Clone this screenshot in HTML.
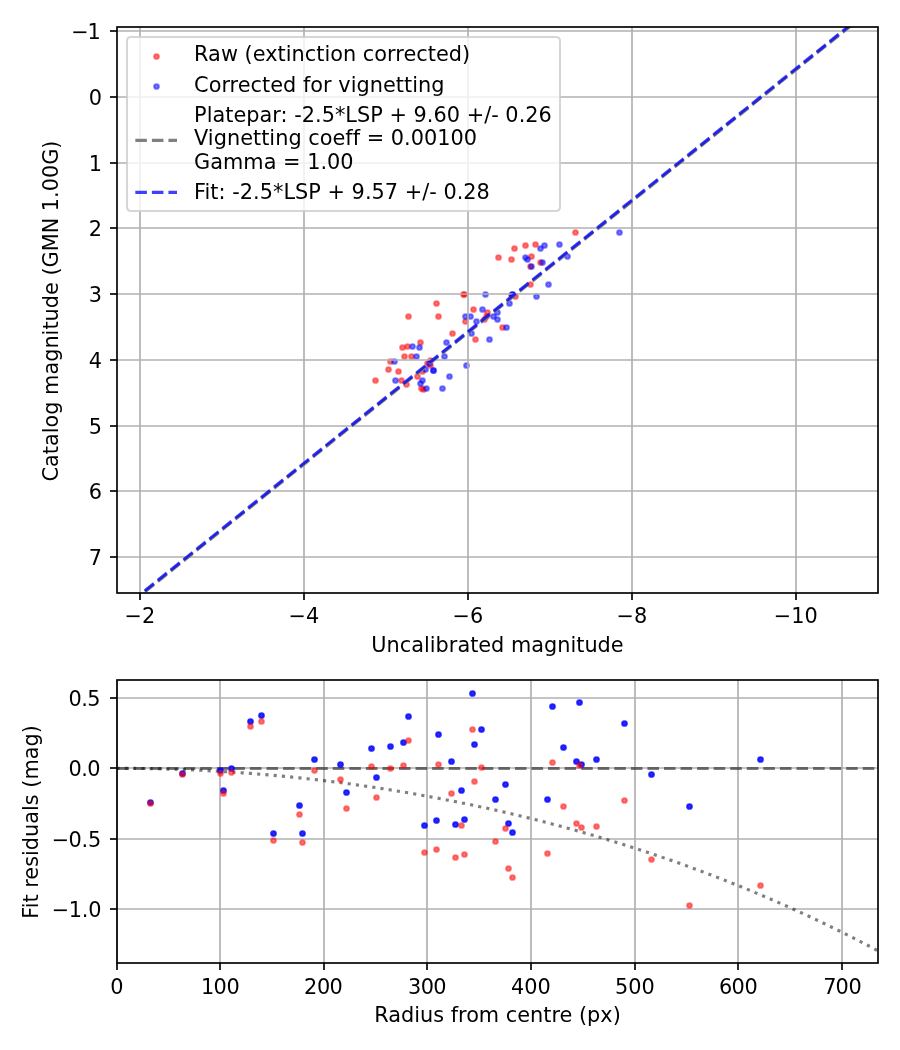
<!DOCTYPE html>
<html><head><meta charset="utf-8"><title>Photometry fit</title>
<style>html,body{margin:0;padding:0;background:#fff}svg{display:block}</style></head>
<body>
<svg width="900" height="1050" viewBox="0 0 900 1050" font-family='"DejaVu Sans", "Liberation Sans", sans-serif' font-size="20.8333px">
<rect width="900" height="1050" fill="#fff"/>
<defs><clipPath id="c1"><rect x="117.0" y="27.0" width="761.0" height="566.0"/></clipPath><clipPath id="c2"><rect x="117.0" y="680.0" width="761.0" height="283.0"/></clipPath></defs>
<g clip-path="url(#c1)">
<circle cx="408.50" cy="316.50" r="2.329" fill="#ff0000" fill-opacity="0.5" stroke="#ff0000" stroke-opacity="0.5" stroke-width="2.083"/>
<circle cx="436.50" cy="303.50" r="2.329" fill="#ff0000" fill-opacity="0.5" stroke="#ff0000" stroke-opacity="0.5" stroke-width="2.083"/>
<circle cx="438.50" cy="316.50" r="2.329" fill="#ff0000" fill-opacity="0.5" stroke="#ff0000" stroke-opacity="0.5" stroke-width="2.083"/>
<circle cx="375.50" cy="380.50" r="2.329" fill="#ff0000" fill-opacity="0.5" stroke="#ff0000" stroke-opacity="0.5" stroke-width="2.083"/>
<circle cx="388.50" cy="369.50" r="2.329" fill="#ff0000" fill-opacity="0.5" stroke="#ff0000" stroke-opacity="0.5" stroke-width="2.083"/>
<circle cx="390.50" cy="361.50" r="2.329" fill="#ff0000" fill-opacity="0.5" stroke="#ff0000" stroke-opacity="0.5" stroke-width="2.083"/>
<circle cx="398.50" cy="371.50" r="2.329" fill="#ff0000" fill-opacity="0.5" stroke="#ff0000" stroke-opacity="0.5" stroke-width="2.083"/>
<circle cx="401.50" cy="380.50" r="2.329" fill="#ff0000" fill-opacity="0.5" stroke="#ff0000" stroke-opacity="0.5" stroke-width="2.083"/>
<circle cx="402.50" cy="347.50" r="2.329" fill="#ff0000" fill-opacity="0.5" stroke="#ff0000" stroke-opacity="0.5" stroke-width="2.083"/>
<circle cx="407.50" cy="346.50" r="2.329" fill="#ff0000" fill-opacity="0.5" stroke="#ff0000" stroke-opacity="0.5" stroke-width="2.083"/>
<circle cx="404.50" cy="356.50" r="2.329" fill="#ff0000" fill-opacity="0.5" stroke="#ff0000" stroke-opacity="0.5" stroke-width="2.083"/>
<circle cx="411.50" cy="356.50" r="2.329" fill="#ff0000" fill-opacity="0.5" stroke="#ff0000" stroke-opacity="0.5" stroke-width="2.083"/>
<circle cx="420.50" cy="342.50" r="2.329" fill="#ff0000" fill-opacity="0.5" stroke="#ff0000" stroke-opacity="0.5" stroke-width="2.083"/>
<circle cx="406.50" cy="384.50" r="2.329" fill="#ff0000" fill-opacity="0.5" stroke="#ff0000" stroke-opacity="0.5" stroke-width="2.083"/>
<circle cx="417.50" cy="376.50" r="2.329" fill="#ff0000" fill-opacity="0.5" stroke="#ff0000" stroke-opacity="0.5" stroke-width="2.083"/>
<circle cx="422.50" cy="371.50" r="2.329" fill="#ff0000" fill-opacity="0.5" stroke="#ff0000" stroke-opacity="0.5" stroke-width="2.083"/>
<circle cx="427.50" cy="363.50" r="2.329" fill="#ff0000" fill-opacity="0.5" stroke="#ff0000" stroke-opacity="0.5" stroke-width="2.083"/>
<circle cx="430.50" cy="360.50" r="2.329" fill="#ff0000" fill-opacity="0.5" stroke="#ff0000" stroke-opacity="0.5" stroke-width="2.083"/>
<circle cx="430.50" cy="365.50" r="2.329" fill="#ff0000" fill-opacity="0.5" stroke="#ff0000" stroke-opacity="0.5" stroke-width="2.083"/>
<circle cx="421.50" cy="388.50" r="2.329" fill="#ff0000" fill-opacity="0.5" stroke="#ff0000" stroke-opacity="0.5" stroke-width="2.083"/>
<circle cx="423.50" cy="389.50" r="2.329" fill="#ff0000" fill-opacity="0.5" stroke="#ff0000" stroke-opacity="0.5" stroke-width="2.083"/>
<circle cx="452.50" cy="333.50" r="2.329" fill="#ff0000" fill-opacity="0.5" stroke="#ff0000" stroke-opacity="0.5" stroke-width="2.083"/>
<circle cx="463.50" cy="294.50" r="2.329" fill="#ff0000" fill-opacity="0.5" stroke="#ff0000" stroke-opacity="0.5" stroke-width="2.083"/>
<circle cx="464.50" cy="294.50" r="2.329" fill="#ff0000" fill-opacity="0.5" stroke="#ff0000" stroke-opacity="0.5" stroke-width="2.083"/>
<circle cx="473.50" cy="309.50" r="2.329" fill="#ff0000" fill-opacity="0.5" stroke="#ff0000" stroke-opacity="0.5" stroke-width="2.083"/>
<circle cx="487.50" cy="312.50" r="2.329" fill="#ff0000" fill-opacity="0.5" stroke="#ff0000" stroke-opacity="0.5" stroke-width="2.083"/>
<circle cx="484.50" cy="319.50" r="2.329" fill="#ff0000" fill-opacity="0.5" stroke="#ff0000" stroke-opacity="0.5" stroke-width="2.083"/>
<circle cx="486.50" cy="316.50" r="2.329" fill="#ff0000" fill-opacity="0.5" stroke="#ff0000" stroke-opacity="0.5" stroke-width="2.083"/>
<circle cx="465.50" cy="321.50" r="2.329" fill="#ff0000" fill-opacity="0.5" stroke="#ff0000" stroke-opacity="0.5" stroke-width="2.083"/>
<circle cx="475.50" cy="339.50" r="2.329" fill="#ff0000" fill-opacity="0.5" stroke="#ff0000" stroke-opacity="0.5" stroke-width="2.083"/>
<circle cx="502.50" cy="327.50" r="2.329" fill="#ff0000" fill-opacity="0.5" stroke="#ff0000" stroke-opacity="0.5" stroke-width="2.083"/>
<circle cx="530.50" cy="284.50" r="2.329" fill="#ff0000" fill-opacity="0.5" stroke="#ff0000" stroke-opacity="0.5" stroke-width="2.083"/>
<circle cx="515.50" cy="296.50" r="2.329" fill="#ff0000" fill-opacity="0.5" stroke="#ff0000" stroke-opacity="0.5" stroke-width="2.083"/>
<circle cx="511.50" cy="295.50" r="2.329" fill="#ff0000" fill-opacity="0.5" stroke="#ff0000" stroke-opacity="0.5" stroke-width="2.083"/>
<circle cx="498.50" cy="257.50" r="2.329" fill="#ff0000" fill-opacity="0.5" stroke="#ff0000" stroke-opacity="0.5" stroke-width="2.083"/>
<circle cx="511.50" cy="259.50" r="2.329" fill="#ff0000" fill-opacity="0.5" stroke="#ff0000" stroke-opacity="0.5" stroke-width="2.083"/>
<circle cx="514.50" cy="248.50" r="2.329" fill="#ff0000" fill-opacity="0.5" stroke="#ff0000" stroke-opacity="0.5" stroke-width="2.083"/>
<circle cx="525.50" cy="245.50" r="2.329" fill="#ff0000" fill-opacity="0.5" stroke="#ff0000" stroke-opacity="0.5" stroke-width="2.083"/>
<circle cx="535.50" cy="244.50" r="2.329" fill="#ff0000" fill-opacity="0.5" stroke="#ff0000" stroke-opacity="0.5" stroke-width="2.083"/>
<circle cx="531.50" cy="256.50" r="2.329" fill="#ff0000" fill-opacity="0.5" stroke="#ff0000" stroke-opacity="0.5" stroke-width="2.083"/>
<circle cx="540.50" cy="262.50" r="2.329" fill="#ff0000" fill-opacity="0.5" stroke="#ff0000" stroke-opacity="0.5" stroke-width="2.083"/>
<circle cx="530.50" cy="266.50" r="2.329" fill="#ff0000" fill-opacity="0.5" stroke="#ff0000" stroke-opacity="0.5" stroke-width="2.083"/>
<circle cx="575.50" cy="232.50" r="2.329" fill="#ff0000" fill-opacity="0.5" stroke="#ff0000" stroke-opacity="0.5" stroke-width="2.083"/>
<circle cx="394.50" cy="361.50" r="2.329" fill="#0000ff" fill-opacity="0.5" stroke="#0000ff" stroke-opacity="0.5" stroke-width="2.083"/>
<circle cx="395.50" cy="380.50" r="2.329" fill="#0000ff" fill-opacity="0.5" stroke="#0000ff" stroke-opacity="0.5" stroke-width="2.083"/>
<circle cx="412.50" cy="346.50" r="2.329" fill="#0000ff" fill-opacity="0.5" stroke="#0000ff" stroke-opacity="0.5" stroke-width="2.083"/>
<circle cx="419.50" cy="347.50" r="2.329" fill="#0000ff" fill-opacity="0.5" stroke="#0000ff" stroke-opacity="0.5" stroke-width="2.083"/>
<circle cx="416.50" cy="356.50" r="2.329" fill="#0000ff" fill-opacity="0.5" stroke="#0000ff" stroke-opacity="0.5" stroke-width="2.083"/>
<circle cx="446.50" cy="342.50" r="2.329" fill="#0000ff" fill-opacity="0.5" stroke="#0000ff" stroke-opacity="0.5" stroke-width="2.083"/>
<circle cx="444.50" cy="356.50" r="2.329" fill="#0000ff" fill-opacity="0.5" stroke="#0000ff" stroke-opacity="0.5" stroke-width="2.083"/>
<circle cx="433.50" cy="370.50" r="2.329" fill="#0000ff" fill-opacity="0.5" stroke="#0000ff" stroke-opacity="0.5" stroke-width="2.083"/>
<circle cx="433.50" cy="370.50" r="2.329" fill="#0000ff" fill-opacity="0.5" stroke="#0000ff" stroke-opacity="0.5" stroke-width="2.083"/>
<circle cx="425.50" cy="369.50" r="2.329" fill="#0000ff" fill-opacity="0.5" stroke="#0000ff" stroke-opacity="0.5" stroke-width="2.083"/>
<circle cx="422.50" cy="380.50" r="2.329" fill="#0000ff" fill-opacity="0.5" stroke="#0000ff" stroke-opacity="0.5" stroke-width="2.083"/>
<circle cx="420.50" cy="383.50" r="2.329" fill="#0000ff" fill-opacity="0.5" stroke="#0000ff" stroke-opacity="0.5" stroke-width="2.083"/>
<circle cx="426.50" cy="388.50" r="2.329" fill="#0000ff" fill-opacity="0.5" stroke="#0000ff" stroke-opacity="0.5" stroke-width="2.083"/>
<circle cx="442.50" cy="388.50" r="2.329" fill="#0000ff" fill-opacity="0.5" stroke="#0000ff" stroke-opacity="0.5" stroke-width="2.083"/>
<circle cx="449.50" cy="376.50" r="2.329" fill="#0000ff" fill-opacity="0.5" stroke="#0000ff" stroke-opacity="0.5" stroke-width="2.083"/>
<circle cx="429.50" cy="363.50" r="2.329" fill="#0000ff" fill-opacity="0.5" stroke="#0000ff" stroke-opacity="0.5" stroke-width="2.083"/>
<circle cx="485.50" cy="294.50" r="2.329" fill="#0000ff" fill-opacity="0.5" stroke="#0000ff" stroke-opacity="0.5" stroke-width="2.083"/>
<circle cx="482.50" cy="309.50" r="2.329" fill="#0000ff" fill-opacity="0.5" stroke="#0000ff" stroke-opacity="0.5" stroke-width="2.083"/>
<circle cx="465.50" cy="316.50" r="2.329" fill="#0000ff" fill-opacity="0.5" stroke="#0000ff" stroke-opacity="0.5" stroke-width="2.083"/>
<circle cx="470.50" cy="316.50" r="2.329" fill="#0000ff" fill-opacity="0.5" stroke="#0000ff" stroke-opacity="0.5" stroke-width="2.083"/>
<circle cx="476.50" cy="321.50" r="2.329" fill="#0000ff" fill-opacity="0.5" stroke="#0000ff" stroke-opacity="0.5" stroke-width="2.083"/>
<circle cx="493.50" cy="316.50" r="2.329" fill="#0000ff" fill-opacity="0.5" stroke="#0000ff" stroke-opacity="0.5" stroke-width="2.083"/>
<circle cx="497.50" cy="312.50" r="2.329" fill="#0000ff" fill-opacity="0.5" stroke="#0000ff" stroke-opacity="0.5" stroke-width="2.083"/>
<circle cx="497.50" cy="319.50" r="2.329" fill="#0000ff" fill-opacity="0.5" stroke="#0000ff" stroke-opacity="0.5" stroke-width="2.083"/>
<circle cx="509.50" cy="303.50" r="2.329" fill="#0000ff" fill-opacity="0.5" stroke="#0000ff" stroke-opacity="0.5" stroke-width="2.083"/>
<circle cx="512.50" cy="294.50" r="2.329" fill="#0000ff" fill-opacity="0.5" stroke="#0000ff" stroke-opacity="0.5" stroke-width="2.083"/>
<circle cx="512.50" cy="294.50" r="2.329" fill="#0000ff" fill-opacity="0.5" stroke="#0000ff" stroke-opacity="0.5" stroke-width="2.083"/>
<circle cx="506.50" cy="327.50" r="2.329" fill="#0000ff" fill-opacity="0.5" stroke="#0000ff" stroke-opacity="0.5" stroke-width="2.083"/>
<circle cx="471.50" cy="333.50" r="2.329" fill="#0000ff" fill-opacity="0.5" stroke="#0000ff" stroke-opacity="0.5" stroke-width="2.083"/>
<circle cx="489.50" cy="339.50" r="2.329" fill="#0000ff" fill-opacity="0.5" stroke="#0000ff" stroke-opacity="0.5" stroke-width="2.083"/>
<circle cx="536.50" cy="296.50" r="2.329" fill="#0000ff" fill-opacity="0.5" stroke="#0000ff" stroke-opacity="0.5" stroke-width="2.083"/>
<circle cx="466.50" cy="365.50" r="2.329" fill="#0000ff" fill-opacity="0.5" stroke="#0000ff" stroke-opacity="0.5" stroke-width="2.083"/>
<circle cx="544.50" cy="245.50" r="2.329" fill="#0000ff" fill-opacity="0.5" stroke="#0000ff" stroke-opacity="0.5" stroke-width="2.083"/>
<circle cx="540.50" cy="248.50" r="2.329" fill="#0000ff" fill-opacity="0.5" stroke="#0000ff" stroke-opacity="0.5" stroke-width="2.083"/>
<circle cx="559.50" cy="244.50" r="2.329" fill="#0000ff" fill-opacity="0.5" stroke="#0000ff" stroke-opacity="0.5" stroke-width="2.083"/>
<circle cx="525.50" cy="257.50" r="2.329" fill="#0000ff" fill-opacity="0.5" stroke="#0000ff" stroke-opacity="0.5" stroke-width="2.083"/>
<circle cx="527.50" cy="259.50" r="2.329" fill="#0000ff" fill-opacity="0.5" stroke="#0000ff" stroke-opacity="0.5" stroke-width="2.083"/>
<circle cx="542.50" cy="262.50" r="2.329" fill="#0000ff" fill-opacity="0.5" stroke="#0000ff" stroke-opacity="0.5" stroke-width="2.083"/>
<circle cx="531.50" cy="266.50" r="2.329" fill="#0000ff" fill-opacity="0.5" stroke="#0000ff" stroke-opacity="0.5" stroke-width="2.083"/>
<circle cx="567.50" cy="256.50" r="2.329" fill="#0000ff" fill-opacity="0.5" stroke="#0000ff" stroke-opacity="0.5" stroke-width="2.083"/>
<circle cx="548.50" cy="284.50" r="2.329" fill="#0000ff" fill-opacity="0.5" stroke="#0000ff" stroke-opacity="0.5" stroke-width="2.083"/>
<circle cx="619.50" cy="232.50" r="2.329" fill="#0000ff" fill-opacity="0.5" stroke="#0000ff" stroke-opacity="0.5" stroke-width="2.083"/>
</g>
<g stroke="#b0b0b0" stroke-width="1.667" fill="none">
<path d="M140.00 27.0V593.0"/>
<path d="M304.00 27.0V593.0"/>
<path d="M468.00 27.0V593.0"/>
<path d="M632.00 27.0V593.0"/>
<path d="M796.00 27.0V593.0"/>
<path d="M117.0 31H878.0"/>
<path d="M117.0 97H878.0"/>
<path d="M117.0 163H878.0"/>
<path d="M117.0 228H878.0"/>
<path d="M117.0 294H878.0"/>
<path d="M117.0 360H878.0"/>
<path d="M117.0 426H878.0"/>
<path d="M117.0 491H878.0"/>
<path d="M117.0 557H878.0"/>
</g>
<g clip-path="url(#c1)" fill="none" stroke-width="3.125" stroke-dasharray="11.562 5.000">
<path d="M144.90 591.79L869.80 10.55" stroke="#808080" />
<path d="M144.90 590.68L869.80 9.43" stroke="#0000ff" stroke-opacity="0.75"/>
</g>
<g stroke="#000" stroke-width="1.667" fill="none">
<path d="M140.00 593.0v7.00"/>
<path d="M304.00 593.0v7.00"/>
<path d="M468.00 593.0v7.00"/>
<path d="M632.00 593.0v7.00"/>
<path d="M796.00 593.0v7.00"/>
<path d="M117.0 31h-7.00"/>
<path d="M117.0 97h-7.00"/>
<path d="M117.0 163h-7.00"/>
<path d="M117.0 228h-7.00"/>
<path d="M117.0 294h-7.00"/>
<path d="M117.0 360h-7.00"/>
<path d="M117.0 426h-7.00"/>
<path d="M117.0 491h-7.00"/>
<path d="M117.0 557h-7.00"/>
<rect x="117.0" y="27.0" width="761.0" height="566.0" stroke-linejoin="miter"/>
</g>
<g fill="#000">
<text x="139.80" y="623" text-anchor="middle">−2</text>
<text x="303.80" y="623" text-anchor="middle">−4</text>
<text x="467.80" y="623" text-anchor="middle">−6</text>
<text x="631.80" y="623" text-anchor="middle">−8</text>
<text x="795.80" y="623" text-anchor="middle">−10</text>
<text x="71.2 87.5" y="39">−1</text>
<text x="101.92" y="105" text-anchor="end">0</text>
<text x="101.92" y="171" text-anchor="end">1</text>
<text x="101.92" y="236" text-anchor="end">2</text>
<text x="101.92" y="302" text-anchor="end">3</text>
<text x="101.92" y="368" text-anchor="end">4</text>
<text x="101.92" y="434" text-anchor="end">5</text>
<text x="101.92" y="499" text-anchor="end">6</text>
<text x="101.92" y="565" text-anchor="end">7</text>
<text x="497.5" y="652" text-anchor="middle">Uncalibrated magnitude</text>
<text transform="translate(58 311) rotate(-90)" text-anchor="middle">Catalog magnitude (GMN 1.00G)</text>
</g>
<path d="M131.17 37.0H555.83Q560.0 37.0 560.0 41.17V206.83Q560.0 211.0 555.83 211.0H131.17Q127.0 211.0 127.0 206.83V41.17Q127.0 37.0 131.17 37.0Z" fill="#fff" fill-opacity="0.8" stroke="#ccc" stroke-opacity="0.8" stroke-width="2.083"/>
<circle cx="156.50" cy="56.50" r="2.329" fill="#ff0000" fill-opacity="0.5" stroke="#ff0000" stroke-opacity="0.5" stroke-width="2.083"/>
<circle cx="156.50" cy="86.50" r="2.329" fill="#0000ff" fill-opacity="0.5" stroke="#0000ff" stroke-opacity="0.5" stroke-width="2.083"/>
<path d="M135.33 140.4H177.00" stroke="#808080" stroke-width="3.125" stroke-dasharray="11.562 5.000" fill="none"/>
<path d="M135.33 192.4H177.00" stroke="#0000ff" stroke-opacity="0.75" stroke-width="3.125" stroke-dasharray="11.562 5.000" fill="none"/>
<g fill="#000">
<text x="194.07" y="61" letter-spacing="0.022">Raw (extinction corrected)</text>
<text x="194.07" y="92" letter-spacing="0.022">Corrected for vignetting</text>
<text x="194.07" y="122" letter-spacing="0.022">Platepar: -2.5*LSP + 9.60 +/- 0.26</text>
<text x="194.07" y="145" letter-spacing="0.022">Vignetting coeff = 0.00100</text>
<text x="194.07" y="169" letter-spacing="0.022">Gamma = 1.00</text>
<text x="194.07" y="199" letter-spacing="0.022">Fit: -2.5*LSP + 9.57 +/- 0.28</text>
</g>
<g stroke="#b0b0b0" stroke-width="1.667" fill="none">
<path d="M117 680.0V963.0"/>
<path d="M220 680.0V963.0"/>
<path d="M324 680.0V963.0"/>
<path d="M427 680.0V963.0"/>
<path d="M531 680.0V963.0"/>
<path d="M635 680.0V963.0"/>
<path d="M738 680.0V963.0"/>
<path d="M842 680.0V963.0"/>
<path d="M117.0 698H878.0"/>
<path d="M117.0 768H878.0"/>
<path d="M117.0 839H878.0"/>
<path d="M117.0 909H878.0"/>
</g>
<g clip-path="url(#c2)" fill="none">
<path d="M117.45 768.45H878.0" stroke="#000" stroke-opacity="0.5" stroke-width="3.125" stroke-dasharray="11.562 5.000"/>
<path d="M116.50 768.30 L120.31 768.30 L124.12 768.32 L127.94 768.34 L131.75 768.37 L135.56 768.40 L139.37 768.45 L143.19 768.50 L147.00 768.56 L150.81 768.64 L154.62 768.71 L158.44 768.80 L162.25 768.90 L166.06 769.00 L169.87 769.11 L173.69 769.23 L177.50 769.36 L181.31 769.50 L185.12 769.64 L188.94 769.79 L192.75 769.96 L196.56 770.13 L200.37 770.30 L204.19 770.49 L208.00 770.69 L211.81 770.89 L215.62 771.10 L219.44 771.32 L223.25 771.55 L227.06 771.79 L230.87 772.03 L234.69 772.28 L238.50 772.55 L242.31 772.82 L246.12 773.09 L249.94 773.38 L253.75 773.68 L257.56 773.98 L261.37 774.29 L265.19 774.61 L269.00 774.94 L272.81 775.28 L276.62 775.63 L280.44 775.98 L284.25 776.34 L288.06 776.72 L291.87 777.10 L295.69 777.48 L299.50 777.88 L303.31 778.29 L307.12 778.70 L310.94 779.12 L314.75 779.55 L318.56 779.99 L322.37 780.44 L326.19 780.90 L330.00 781.37 L333.81 781.84 L337.62 782.32 L341.44 782.81 L345.25 783.31 L349.06 783.82 L352.87 784.34 L356.69 784.87 L360.50 785.40 L364.31 785.95 L368.12 786.50 L371.94 787.06 L375.75 787.63 L379.56 788.21 L383.37 788.80 L387.19 789.39 L391.00 790.00 L394.81 790.61 L398.62 791.24 L402.44 791.87 L406.25 792.51 L410.06 793.16 L413.87 793.82 L417.69 794.49 L421.50 795.17 L425.31 795.85 L429.12 796.55 L432.94 797.25 L436.75 797.97 L440.56 798.69 L444.37 799.42 L448.19 800.16 L452.00 800.91 L455.81 801.67 L459.62 802.44 L463.44 803.22 L467.25 804.00 L471.06 804.80 L474.87 805.60 L478.69 806.42 L482.50 807.24 L486.31 808.08 L490.12 808.92 L493.94 809.77 L497.75 810.64 L501.56 811.51 L505.37 812.39 L509.19 813.28 L513.00 814.18 L516.81 815.09 L520.62 816.01 L524.44 816.94 L528.25 817.88 L532.06 818.83 L535.87 819.78 L539.69 820.75 L543.50 821.73 L547.31 822.72 L551.12 823.72 L554.94 824.72 L558.75 825.74 L562.56 826.77 L566.37 827.81 L570.19 828.85 L574.00 829.91 L577.81 830.98 L581.62 832.06 L585.44 833.15 L589.25 834.24 L593.06 835.35 L596.87 836.47 L600.68 837.60 L604.50 838.74 L608.31 839.89 L612.12 841.05 L615.93 842.22 L619.75 843.40 L623.56 844.60 L627.37 845.80 L631.18 847.01 L635.00 848.24 L638.81 849.47 L642.62 850.72 L646.43 851.97 L650.25 853.24 L654.06 854.52 L657.87 855.81 L661.68 857.11 L665.50 858.42 L669.31 859.74 L673.12 861.08 L676.93 862.42 L680.75 863.78 L684.56 865.15 L688.37 866.53 L692.18 867.92 L696.00 869.32 L699.81 870.73 L703.62 872.16 L707.43 873.59 L711.25 875.04 L715.06 876.50 L718.87 877.97 L722.68 879.46 L726.50 880.95 L730.31 882.46 L734.12 883.98 L737.93 885.51 L741.75 887.05 L745.56 888.61 L749.37 890.18 L753.18 891.76 L757.00 893.35 L760.81 894.95 L764.62 896.57 L768.43 898.20 L772.25 899.85 L776.06 901.50 L779.87 903.17 L783.68 904.85 L787.50 906.55 L791.31 908.25 L795.12 909.97 L798.93 911.71 L802.75 913.45 L806.56 915.21 L810.37 916.99 L814.18 918.78 L818.00 920.58 L821.81 922.39 L825.62 924.22 L829.43 926.06 L833.25 927.92 L837.06 929.78 L840.87 931.67 L844.68 933.57 L848.50 935.48 L852.31 937.40 L856.12 939.34 L859.93 941.30 L863.75 943.27 L867.56 945.25 L871.37 947.25 L875.18 949.27 L879.00 951.29" stroke="#000" stroke-opacity="0.5" stroke-width="3.125" stroke-dasharray="3.125 5.156"/>
</g>
<g clip-path="url(#c2)">
<circle cx="182.50" cy="773.50" r="2.329" fill="#0000ff" fill-opacity="0.8" stroke="#0000ff" stroke-opacity="0.8" stroke-width="2.083"/>
<circle cx="220.50" cy="770.50" r="2.329" fill="#0000ff" fill-opacity="0.8" stroke="#0000ff" stroke-opacity="0.8" stroke-width="2.083"/>
<circle cx="231.50" cy="768.50" r="2.329" fill="#0000ff" fill-opacity="0.8" stroke="#0000ff" stroke-opacity="0.8" stroke-width="2.083"/>
<circle cx="250.50" cy="721.50" r="2.329" fill="#0000ff" fill-opacity="0.8" stroke="#0000ff" stroke-opacity="0.8" stroke-width="2.083"/>
<circle cx="261.50" cy="715.50" r="2.329" fill="#0000ff" fill-opacity="0.8" stroke="#0000ff" stroke-opacity="0.8" stroke-width="2.083"/>
<circle cx="150.50" cy="802.50" r="2.329" fill="#0000ff" fill-opacity="0.8" stroke="#0000ff" stroke-opacity="0.8" stroke-width="2.083"/>
<circle cx="223.50" cy="790.50" r="2.329" fill="#0000ff" fill-opacity="0.8" stroke="#0000ff" stroke-opacity="0.8" stroke-width="2.083"/>
<circle cx="273.50" cy="833.50" r="2.329" fill="#0000ff" fill-opacity="0.8" stroke="#0000ff" stroke-opacity="0.8" stroke-width="2.083"/>
<circle cx="314.50" cy="759.50" r="2.329" fill="#0000ff" fill-opacity="0.8" stroke="#0000ff" stroke-opacity="0.8" stroke-width="2.083"/>
<circle cx="340.50" cy="764.50" r="2.329" fill="#0000ff" fill-opacity="0.8" stroke="#0000ff" stroke-opacity="0.8" stroke-width="2.083"/>
<circle cx="371.50" cy="748.50" r="2.329" fill="#0000ff" fill-opacity="0.8" stroke="#0000ff" stroke-opacity="0.8" stroke-width="2.083"/>
<circle cx="390.50" cy="746.50" r="2.329" fill="#0000ff" fill-opacity="0.8" stroke="#0000ff" stroke-opacity="0.8" stroke-width="2.083"/>
<circle cx="403.50" cy="742.50" r="2.329" fill="#0000ff" fill-opacity="0.8" stroke="#0000ff" stroke-opacity="0.8" stroke-width="2.083"/>
<circle cx="408.50" cy="716.50" r="2.329" fill="#0000ff" fill-opacity="0.8" stroke="#0000ff" stroke-opacity="0.8" stroke-width="2.083"/>
<circle cx="299.50" cy="805.50" r="2.329" fill="#0000ff" fill-opacity="0.8" stroke="#0000ff" stroke-opacity="0.8" stroke-width="2.083"/>
<circle cx="302.50" cy="833.50" r="2.329" fill="#0000ff" fill-opacity="0.8" stroke="#0000ff" stroke-opacity="0.8" stroke-width="2.083"/>
<circle cx="346.50" cy="792.50" r="2.329" fill="#0000ff" fill-opacity="0.8" stroke="#0000ff" stroke-opacity="0.8" stroke-width="2.083"/>
<circle cx="376.50" cy="777.50" r="2.329" fill="#0000ff" fill-opacity="0.8" stroke="#0000ff" stroke-opacity="0.8" stroke-width="2.083"/>
<circle cx="438.50" cy="734.50" r="2.329" fill="#0000ff" fill-opacity="0.8" stroke="#0000ff" stroke-opacity="0.8" stroke-width="2.083"/>
<circle cx="451.50" cy="761.50" r="2.329" fill="#0000ff" fill-opacity="0.8" stroke="#0000ff" stroke-opacity="0.8" stroke-width="2.083"/>
<circle cx="472.50" cy="693.50" r="2.329" fill="#0000ff" fill-opacity="0.8" stroke="#0000ff" stroke-opacity="0.8" stroke-width="2.083"/>
<circle cx="474.50" cy="744.50" r="2.329" fill="#0000ff" fill-opacity="0.8" stroke="#0000ff" stroke-opacity="0.8" stroke-width="2.083"/>
<circle cx="481.50" cy="729.50" r="2.329" fill="#0000ff" fill-opacity="0.8" stroke="#0000ff" stroke-opacity="0.8" stroke-width="2.083"/>
<circle cx="505.50" cy="784.50" r="2.329" fill="#0000ff" fill-opacity="0.8" stroke="#0000ff" stroke-opacity="0.8" stroke-width="2.083"/>
<circle cx="552.50" cy="706.50" r="2.329" fill="#0000ff" fill-opacity="0.8" stroke="#0000ff" stroke-opacity="0.8" stroke-width="2.083"/>
<circle cx="424.50" cy="825.50" r="2.329" fill="#0000ff" fill-opacity="0.8" stroke="#0000ff" stroke-opacity="0.8" stroke-width="2.083"/>
<circle cx="436.50" cy="820.50" r="2.329" fill="#0000ff" fill-opacity="0.8" stroke="#0000ff" stroke-opacity="0.8" stroke-width="2.083"/>
<circle cx="455.50" cy="824.50" r="2.329" fill="#0000ff" fill-opacity="0.8" stroke="#0000ff" stroke-opacity="0.8" stroke-width="2.083"/>
<circle cx="461.50" cy="790.50" r="2.329" fill="#0000ff" fill-opacity="0.8" stroke="#0000ff" stroke-opacity="0.8" stroke-width="2.083"/>
<circle cx="464.50" cy="819.50" r="2.329" fill="#0000ff" fill-opacity="0.8" stroke="#0000ff" stroke-opacity="0.8" stroke-width="2.083"/>
<circle cx="495.50" cy="799.50" r="2.329" fill="#0000ff" fill-opacity="0.8" stroke="#0000ff" stroke-opacity="0.8" stroke-width="2.083"/>
<circle cx="508.50" cy="823.50" r="2.329" fill="#0000ff" fill-opacity="0.8" stroke="#0000ff" stroke-opacity="0.8" stroke-width="2.083"/>
<circle cx="512.50" cy="832.50" r="2.329" fill="#0000ff" fill-opacity="0.8" stroke="#0000ff" stroke-opacity="0.8" stroke-width="2.083"/>
<circle cx="547.50" cy="799.50" r="2.329" fill="#0000ff" fill-opacity="0.8" stroke="#0000ff" stroke-opacity="0.8" stroke-width="2.083"/>
<circle cx="579.50" cy="702.50" r="2.329" fill="#0000ff" fill-opacity="0.8" stroke="#0000ff" stroke-opacity="0.8" stroke-width="2.083"/>
<circle cx="563.50" cy="747.50" r="2.329" fill="#0000ff" fill-opacity="0.8" stroke="#0000ff" stroke-opacity="0.8" stroke-width="2.083"/>
<circle cx="576.50" cy="761.50" r="2.329" fill="#0000ff" fill-opacity="0.8" stroke="#0000ff" stroke-opacity="0.8" stroke-width="2.083"/>
<circle cx="581.50" cy="764.50" r="2.329" fill="#0000ff" fill-opacity="0.8" stroke="#0000ff" stroke-opacity="0.8" stroke-width="2.083"/>
<circle cx="596.50" cy="759.50" r="2.329" fill="#0000ff" fill-opacity="0.8" stroke="#0000ff" stroke-opacity="0.8" stroke-width="2.083"/>
<circle cx="624.50" cy="723.50" r="2.329" fill="#0000ff" fill-opacity="0.8" stroke="#0000ff" stroke-opacity="0.8" stroke-width="2.083"/>
<circle cx="651.50" cy="774.50" r="2.329" fill="#0000ff" fill-opacity="0.8" stroke="#0000ff" stroke-opacity="0.8" stroke-width="2.083"/>
<circle cx="689.50" cy="806.50" r="2.329" fill="#0000ff" fill-opacity="0.8" stroke="#0000ff" stroke-opacity="0.8" stroke-width="2.083"/>
<circle cx="760.50" cy="759.50" r="2.329" fill="#0000ff" fill-opacity="0.8" stroke="#0000ff" stroke-opacity="0.8" stroke-width="2.083"/>
<circle cx="182.50" cy="774.50" r="2.329" fill="#ff0000" fill-opacity="0.5" stroke="#ff0000" stroke-opacity="0.5" stroke-width="2.083"/>
<circle cx="220.50" cy="773.50" r="2.329" fill="#ff0000" fill-opacity="0.5" stroke="#ff0000" stroke-opacity="0.5" stroke-width="2.083"/>
<circle cx="231.50" cy="772.50" r="2.329" fill="#ff0000" fill-opacity="0.5" stroke="#ff0000" stroke-opacity="0.5" stroke-width="2.083"/>
<circle cx="250.50" cy="726.50" r="2.329" fill="#ff0000" fill-opacity="0.5" stroke="#ff0000" stroke-opacity="0.5" stroke-width="2.083"/>
<circle cx="261.50" cy="721.50" r="2.329" fill="#ff0000" fill-opacity="0.5" stroke="#ff0000" stroke-opacity="0.5" stroke-width="2.083"/>
<circle cx="150.50" cy="803.50" r="2.329" fill="#ff0000" fill-opacity="0.5" stroke="#ff0000" stroke-opacity="0.5" stroke-width="2.083"/>
<circle cx="223.50" cy="793.50" r="2.329" fill="#ff0000" fill-opacity="0.5" stroke="#ff0000" stroke-opacity="0.5" stroke-width="2.083"/>
<circle cx="273.50" cy="840.50" r="2.329" fill="#ff0000" fill-opacity="0.5" stroke="#ff0000" stroke-opacity="0.5" stroke-width="2.083"/>
<circle cx="314.50" cy="770.50" r="2.329" fill="#ff0000" fill-opacity="0.5" stroke="#ff0000" stroke-opacity="0.5" stroke-width="2.083"/>
<circle cx="340.50" cy="779.50" r="2.329" fill="#ff0000" fill-opacity="0.5" stroke="#ff0000" stroke-opacity="0.5" stroke-width="2.083"/>
<circle cx="371.50" cy="766.50" r="2.329" fill="#ff0000" fill-opacity="0.5" stroke="#ff0000" stroke-opacity="0.5" stroke-width="2.083"/>
<circle cx="390.50" cy="768.50" r="2.329" fill="#ff0000" fill-opacity="0.5" stroke="#ff0000" stroke-opacity="0.5" stroke-width="2.083"/>
<circle cx="403.50" cy="765.50" r="2.329" fill="#ff0000" fill-opacity="0.5" stroke="#ff0000" stroke-opacity="0.5" stroke-width="2.083"/>
<circle cx="408.50" cy="740.50" r="2.329" fill="#ff0000" fill-opacity="0.5" stroke="#ff0000" stroke-opacity="0.5" stroke-width="2.083"/>
<circle cx="299.50" cy="814.50" r="2.329" fill="#ff0000" fill-opacity="0.5" stroke="#ff0000" stroke-opacity="0.5" stroke-width="2.083"/>
<circle cx="302.50" cy="842.50" r="2.329" fill="#ff0000" fill-opacity="0.5" stroke="#ff0000" stroke-opacity="0.5" stroke-width="2.083"/>
<circle cx="346.50" cy="808.50" r="2.329" fill="#ff0000" fill-opacity="0.5" stroke="#ff0000" stroke-opacity="0.5" stroke-width="2.083"/>
<circle cx="376.50" cy="797.50" r="2.329" fill="#ff0000" fill-opacity="0.5" stroke="#ff0000" stroke-opacity="0.5" stroke-width="2.083"/>
<circle cx="438.50" cy="764.50" r="2.329" fill="#ff0000" fill-opacity="0.5" stroke="#ff0000" stroke-opacity="0.5" stroke-width="2.083"/>
<circle cx="451.50" cy="793.50" r="2.329" fill="#ff0000" fill-opacity="0.5" stroke="#ff0000" stroke-opacity="0.5" stroke-width="2.083"/>
<circle cx="472.50" cy="729.50" r="2.329" fill="#ff0000" fill-opacity="0.5" stroke="#ff0000" stroke-opacity="0.5" stroke-width="2.083"/>
<circle cx="474.50" cy="781.50" r="2.329" fill="#ff0000" fill-opacity="0.5" stroke="#ff0000" stroke-opacity="0.5" stroke-width="2.083"/>
<circle cx="481.50" cy="767.50" r="2.329" fill="#ff0000" fill-opacity="0.5" stroke="#ff0000" stroke-opacity="0.5" stroke-width="2.083"/>
<circle cx="505.50" cy="828.50" r="2.329" fill="#ff0000" fill-opacity="0.5" stroke="#ff0000" stroke-opacity="0.5" stroke-width="2.083"/>
<circle cx="552.50" cy="762.50" r="2.329" fill="#ff0000" fill-opacity="0.5" stroke="#ff0000" stroke-opacity="0.5" stroke-width="2.083"/>
<circle cx="424.50" cy="852.50" r="2.329" fill="#ff0000" fill-opacity="0.5" stroke="#ff0000" stroke-opacity="0.5" stroke-width="2.083"/>
<circle cx="436.50" cy="849.50" r="2.329" fill="#ff0000" fill-opacity="0.5" stroke="#ff0000" stroke-opacity="0.5" stroke-width="2.083"/>
<circle cx="455.50" cy="857.50" r="2.329" fill="#ff0000" fill-opacity="0.5" stroke="#ff0000" stroke-opacity="0.5" stroke-width="2.083"/>
<circle cx="461.50" cy="825.50" r="2.329" fill="#ff0000" fill-opacity="0.5" stroke="#ff0000" stroke-opacity="0.5" stroke-width="2.083"/>
<circle cx="464.50" cy="854.50" r="2.329" fill="#ff0000" fill-opacity="0.5" stroke="#ff0000" stroke-opacity="0.5" stroke-width="2.083"/>
<circle cx="495.50" cy="841.50" r="2.329" fill="#ff0000" fill-opacity="0.5" stroke="#ff0000" stroke-opacity="0.5" stroke-width="2.083"/>
<circle cx="508.50" cy="868.50" r="2.329" fill="#ff0000" fill-opacity="0.5" stroke="#ff0000" stroke-opacity="0.5" stroke-width="2.083"/>
<circle cx="512.50" cy="877.50" r="2.329" fill="#ff0000" fill-opacity="0.5" stroke="#ff0000" stroke-opacity="0.5" stroke-width="2.083"/>
<circle cx="547.50" cy="853.50" r="2.329" fill="#ff0000" fill-opacity="0.5" stroke="#ff0000" stroke-opacity="0.5" stroke-width="2.083"/>
<circle cx="579.50" cy="765.50" r="2.329" fill="#ff0000" fill-opacity="0.5" stroke="#ff0000" stroke-opacity="0.5" stroke-width="2.083"/>
<circle cx="563.50" cy="806.50" r="2.329" fill="#ff0000" fill-opacity="0.5" stroke="#ff0000" stroke-opacity="0.5" stroke-width="2.083"/>
<circle cx="576.50" cy="823.50" r="2.329" fill="#ff0000" fill-opacity="0.5" stroke="#ff0000" stroke-opacity="0.5" stroke-width="2.083"/>
<circle cx="581.50" cy="827.50" r="2.329" fill="#ff0000" fill-opacity="0.5" stroke="#ff0000" stroke-opacity="0.5" stroke-width="2.083"/>
<circle cx="596.50" cy="826.50" r="2.329" fill="#ff0000" fill-opacity="0.5" stroke="#ff0000" stroke-opacity="0.5" stroke-width="2.083"/>
<circle cx="624.50" cy="800.50" r="2.329" fill="#ff0000" fill-opacity="0.5" stroke="#ff0000" stroke-opacity="0.5" stroke-width="2.083"/>
<circle cx="651.50" cy="859.50" r="2.329" fill="#ff0000" fill-opacity="0.5" stroke="#ff0000" stroke-opacity="0.5" stroke-width="2.083"/>
<circle cx="689.50" cy="905.50" r="2.329" fill="#ff0000" fill-opacity="0.5" stroke="#ff0000" stroke-opacity="0.5" stroke-width="2.083"/>
<circle cx="760.50" cy="885.50" r="2.329" fill="#ff0000" fill-opacity="0.5" stroke="#ff0000" stroke-opacity="0.5" stroke-width="2.083"/>
</g>
<g stroke="#000" stroke-width="1.667" fill="none">
<path d="M117 963.0v7.00"/>
<path d="M220 963.0v7.00"/>
<path d="M324 963.0v7.00"/>
<path d="M427 963.0v7.00"/>
<path d="M531 963.0v7.00"/>
<path d="M635 963.0v7.00"/>
<path d="M738 963.0v7.00"/>
<path d="M842 963.0v7.00"/>
<path d="M117.0 698h-7.00"/>
<path d="M117.0 768h-7.00"/>
<path d="M117.0 839h-7.00"/>
<path d="M117.0 909h-7.00"/>
<rect x="117.0" y="680.0" width="761.0" height="283.0"/>
</g>
<g fill="#000">
<text x="117" y="994" text-anchor="middle">0</text>
<text x="201.1 213.4 226.6" y="994">100</text>
<text x="304.1 317.1 329.6" y="994">200</text>
<text x="407.9 420.7 433.3" y="994">300</text>
<text x="531" y="994" text-anchor="middle">400</text>
<text x="635" y="994" text-anchor="middle">500</text>
<text x="719.1 731.6 744.6" y="994">600</text>
<text x="823.3 835.6 848.6" y="994">700</text>
<text x="68.6 81.25 87.27" y="706">0.5</text>
<text x="68.6 81.25 87.27" y="776">0.0</text>
<text x="51.64 68.6 81.6 87.97" y="847">−0.5</text>
<text x="51.84 68.8 81.75 88.17" y="917">−1.0</text>
<text x="497.5" y="1022" text-anchor="middle">Radius from centre (px)</text>
<text transform="translate(37.7 822) rotate(-90)" text-anchor="middle">Fit residuals (mag)</text>
</g>
</svg>
</body></html>
